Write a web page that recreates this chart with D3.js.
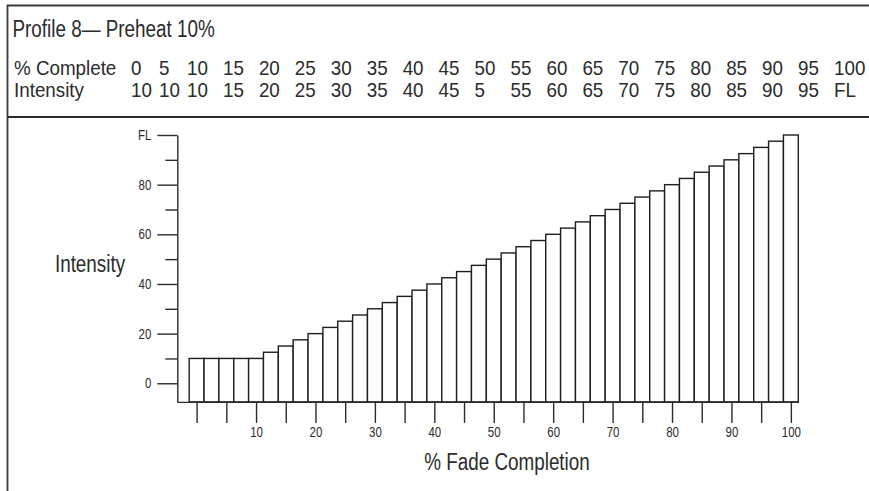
<!DOCTYPE html>
<html>
<head>
<meta charset="utf-8">
<script src="https://cdn.jsdelivr.net/npm/d3@7"></script>
<style>
  body { margin: 0; background: #fff; }
  svg text { font-family: "Liberation Sans", Arial, sans-serif; fill: #2b2b2b; }
</style>
</head>
<body>
<div id="chart"></div>
<script>

// table rows printed above the chart
var title = "Profile 8\u2014 Preheat 10%";
var rowHeaders = ["% Complete", "Intensity"];
var completeLabels = ["0","5","10","15","20","25","30","35","40","45","50","55","60","65","70","75","80","85","90","95","100"];
var intensityLabels = ["10","10","10","15","20","25","30","35","40","45","5","55","60","65","70","75","80","85","90","95","FL"];

// bars: fade completion (%) and intensity
var completion = [0,2.5,5,7.5,10,12.5,15,17.5,20,22.5,25,27.5,30,32.5,35,37.5,40,42.5,45,47.5,50,
                  52.5,55,57.5,60,62.5,65,67.5,70,72.5,75,77.5,80,82.5,85,87.5,90,92.5,95,97.5,100];
var intensity = [10,10,10,10,10,12.5,15,17.5,20,22.5,25,27.5,30,32.5,35,37.5,40,42.5,45,47.5,50,
                 52.5,55,57.5,60,62.5,65,67.5,70,72.5,75,77.5,80,82.5,85,87.5,90,92.5,95,97.5,100];

// axis ticks
var yMajor = [0, 20, 40, 60, 80, 100];
var yMajorLabels = ["0", "20", "40", "60", "80", "FL"];
var yMinor = [10, 30, 50, 70, 90];
var xTicks = [0,5,10,15,20,25,30,35,40,45,50,55,60,65,70,75,80,85,90,95,100];
var xLabelled = [10,20,30,40,50,60,70,80,90,100];

var width = 869, height = 491;
var ink = "#2b2b2b";
var narrow = 0.82;   // squeeze Liberation Sans into a condensed face

var svg = d3.select("#chart").append("svg")
    .attr("width", width)
    .attr("height", height);

svg.append("rect")
    .attr("width", width)
    .attr("height", height)
    .style("fill", "#fff");

// condensed text placed at (x, y)
function label(txt, x, y, size, anchor, squeeze) {
  return svg.append("text")
      .attr("transform", "translate(" + x + "," + y + ") scale(" + (squeeze || narrow) + ",1)")
      .attr("text-anchor", anchor || "start")
      .style("font-size", size + "px")
      .text(txt);
}

// frame: left + top border, separator under the table
svg.append("path")
    .attr("d", "M7.5," + height + "V5.5H" + width)
    .style("fill", "none")
    .style("stroke", "#3a3a3a")
    .style("stroke-width", 1.8);

svg.append("line")
    .attr("x1", 7.5).attr("x2", width)
    .attr("y1", 117).attr("y2", 117)
    .style("stroke", "#2b2b2b")
    .style("stroke-width", 2);

// title + table
label(title, 12.5, 37, 23);

var col = d3.scaleLinear().domain([0, 2, 20]).range([131, 187, 834]);
var rows = [completeLabels, intensityLabels];
var rowY = [75, 96.5];

rows.forEach(function(labels, r) {
  label(rowHeaders[r], 14, rowY[r], 20, "start", 0.94);
  labels.forEach(function(d, i) {
    label(d, col(i), rowY[r], 20, "start", 0.94);
  });
});

// scales
var x = d3.scaleLinear().domain([-3.25, 101.25]).range([177.3, 798.3]);
var y = d3.scaleLinear().domain([-7.5, 100]).range([401.9, 135]);
var barW = x(2.5) - x(0);

// bars
svg.selectAll(".bar")
    .data(completion)
    .enter().append("rect")
    .attr("class", "bar")
    .attr("x", function(d) { return x(d) - barW / 2; })
    .attr("y", function(d, i) { return y(intensity[i]); })
    .attr("width", barW)
    .attr("height", function(d, i) { return y(-7.5) - y(intensity[i]); })
    .style("fill", "#fff")
    .style("stroke", "#1e1e1e")
    .style("stroke-width", 1.4);

function styleAxis(g) {
  g.selectAll("path, line").style("stroke", ink).style("stroke-width", 1.4);
  g.selectAll("text")
      .style("font-family", "\"Liberation Sans\", Arial, sans-serif")
      .style("font-size", "14px")
      .style("fill", ink)
      .attr("x", function() { return (+d3.select(this).attr("x") || 0) / narrow; })
      .attr("transform", "scale(" + narrow + ",1)");
}

// y axis: major ticks with labels, short minor ticks
svg.append("g")
    .attr("transform", "translate(" + x(-3.25) + ",0)")
    .call(d3.axisLeft(y)
        .tickValues(yMajor)
        .tickSize(20)
        .tickSizeOuter(0)
        .tickPadding(6)
        .tickFormat(function(d, i) { return yMajorLabels[i]; }))
    .call(styleAxis);

svg.append("g")
    .attr("transform", "translate(" + x(-3.25) + ",0)")
    .call(d3.axisLeft(y).tickValues(yMinor).tickSize(12).tickFormat(""))
    .call(styleAxis)
    .select(".domain").remove();

// x axis along the bar baseline
svg.append("g")
    .attr("transform", "translate(0," + y(-7.5) + ")")
    .call(d3.axisBottom(x)
        .tickValues(xTicks)
        .tickSize(21)
        .tickSizeOuter(0)
        .tickPadding(4)
        .tickFormat(function(d) { return xLabelled.indexOf(d) >= 0 ? d : ""; }))
    .call(styleAxis);

// axis titles
label("Intensity", 90, 271.5, 23, "middle");
label("% Fade Completion", 507, 469.5, 23, "middle");

</script>
</body>
</html>
